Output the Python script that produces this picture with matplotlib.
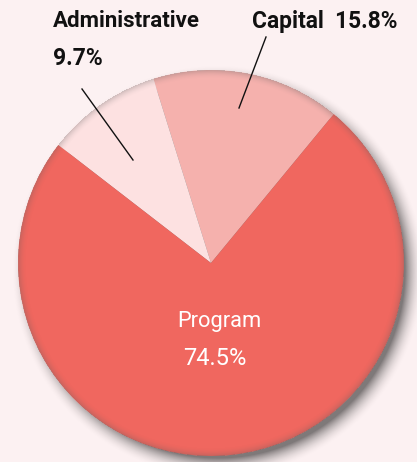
import numpy as np
import matplotlib.pyplot as plt

# slice data (counterclockwise from the Capital/Program border)
labels = ["Capital", "Administrative", "Program"]
shares = [15.8, 9.7, 74.5]
colors = ["#f5b1ad", "#fde1e1", "#f0675f"]

W, H = 417, 462
bg = "#fcf1f2"
cx, cy, R = 211, H - 263, 193

fig = plt.figure(figsize=(W / 100, H / 100), dpi=100, facecolor=bg)
ax = fig.add_axes([0, 0, 1, 1])

# soft drop shadow towards the lower right
yy, xx = np.mgrid[0:H, 0:W] + 0.5
d_sh = np.hypot(xx - (cx + 7), (H - yy) - (cy - 8))
sh_alpha = 0.5 * np.clip(1 - (d_sh - (R - 6)) / 20, 0, 1) ** 2
shadow = np.zeros((H, W, 4))
shadow[..., 3] = sh_alpha
ax.imshow(shadow, extent=(0, W, 0, H), origin="upper", zorder=1, interpolation="bilinear")

wedges, _ = ax.pie(
    shares,
    colors=colors,
    startangle=50.5,
    counterclock=True,
    center=(cx, cy),
    radius=R,
    frame=True,
    wedgeprops=dict(linewidth=0),
)
for w in wedges:
    w.set_zorder(2)

# darker rim inside the edge of the pie
d = np.hypot(xx - cx, (H - yy) - cy)
rim = np.zeros((H, W, 4))
rim[..., :3] = 0.35
t = np.clip((d - (R - 9)) / 9, 0, 1)
rim[..., 3] = np.where(d < R, 0.28 * t ** 2, 0)
ax.imshow(rim, extent=(0, W, 0, H), origin="upper", zorder=3, interpolation="bilinear")

ax.set_xlim(0, W)
ax.set_ylim(0, H)
ax.set_aspect("auto")
ax.axis("off")

fam = ["Roboto", "Liberation Sans", "DejaVu Sans"]
renderer = fig.canvas.get_renderer()


def label(x, y_base, s, width, ha="left", color="#111111", weight="bold"):
    t = ax.text(x, H - y_base, s, ha=ha, va="baseline", color=color,
                family=fam, fontweight=weight, fontsize=14, zorder=5)
    w = t.get_window_extent(renderer).width
    t.set_fontsize(14 * width / w)
    return t


label(53, 27, labels[1], 147)
label(53, 65, f"{shares[1]}%", 50)
label(252, 28, f"{labels[0]}  {shares[0]}%", 146)
label(219.5, 327, labels[2], 85, ha="center", color="white", weight="normal")
label(215, 365, f"{shares[2]}%", 64, ha="center", color="white", weight="normal")

# leader lines
ax.plot([82, 133], [H - 89, H - 160], color="#111111", lw=1, zorder=6)
ax.plot([266, 239], [H - 37, H - 108], color="#111111", lw=1, zorder=6)

fig.savefig("out.png", dpi=100, facecolor=bg)
